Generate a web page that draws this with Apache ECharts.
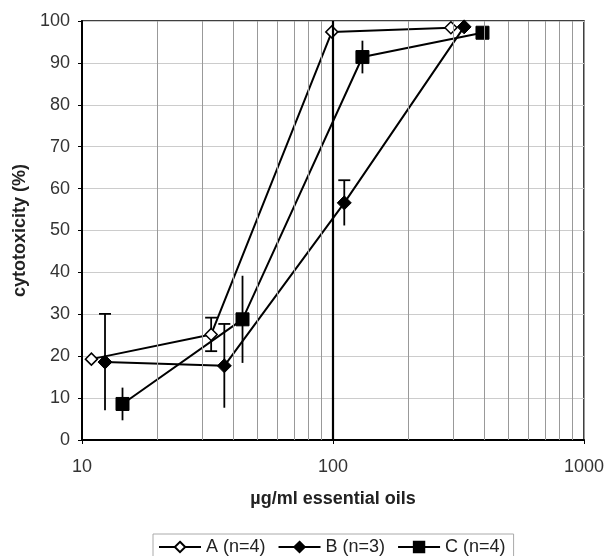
<!DOCTYPE html>
<html>
<head>
<meta charset="utf-8">
<script src="https://cdn.jsdelivr.net/npm/echarts@6/dist/echarts.min.js"></script>
<style>
  html, body { margin: 0; padding: 0; background: #fff; }
  #chart { width: 605px; height: 556px; }
</style>
</head>
<body>
<div id="chart"></div>
<script>
  // concentration (µg/ml) and cytotoxicity (%) per sample
  const xA = [10.9, 32.7, 98.9, 295];
  const yA = [19.3, 25.2, 97.4, 98.4];
  const errA = [0, 4, 0, 0];

  const xB = [12.35, 36.9, 110.9, 333];
  const yB = [18.6, 17.7, 56.6, 98.6];
  const errB = [11.5, 10, 5.4, 0];

  const xC = [14.5, 43.6, 131, 394];
  const yC = [8.6, 28.8, 91.4, 97.2];
  const errC = [3.9, 10.4, 3.9, 0];

  const yTicks = [0, 10, 20, 30, 40, 50, 60, 70, 80, 90, 100];
  const minorX = [20, 30, 40, 50, 60, 70, 80, 90, 200, 300, 400, 500, 600, 700, 800, 900];

  const pts = (xs, ys) => xs.map((x, i) => [x, ys[i]]);

  // error bar rows: x, low, high, cap (0 none, 1 top, 2 both)
  const bars = [];
  function addBars(xs, ys, errs, cap) {
    xs.forEach((x, i) => {
      if (errs[i] > 0) bars.push([x, ys[i] - errs[i], ys[i] + errs[i], cap]);
    });
  }
  addBars(xA, yA, errA, 2);
  addBars(xB, yB, errB, 1);
  addBars(xC, yC, errC, 0);

  const font = 'Liberation Sans, Arial, sans-serif';
  const chart = echarts.init(document.getElementById('chart'));

  const option = {
    animation: false,
    textStyle: { fontFamily: font },
    grid: {
      left: 82, right: 21, top: 21, bottom: 116,
      outerBoundsMode: 'none', containLabel: false,
      show: true, borderColor: '#000', borderWidth: 1.5
    },
    xAxis: {
      type: 'log', logBase: 10, min: 10, max: 1000,
      name: 'µg/ml essential oils',
      nameLocation: 'middle', nameGap: 50,
      nameTextStyle: { fontSize: 18, fontWeight: 'bold', color: '#222', fontFamily: font },
      axisLine: { lineStyle: { color: '#000', width: 2 } },
      axisTick: { show: true, length: 4, lineStyle: { color: '#000' } },
      axisLabel: {
        fontSize: 18, color: '#333', margin: 18, fontFamily: font,
        formatter: v => String(Math.round(v))
      },
      splitLine: { show: true, lineStyle: { color: '#999', width: 1 } }
    },
    yAxis: {
      type: 'value', min: 0, max: 100, interval: 10,
      name: 'cytotoxicity (%)',
      nameLocation: 'middle', nameGap: 50, nameRotate: 90,
      nameTextStyle: { fontSize: 18, fontWeight: 'bold', color: '#222', fontFamily: font },
      axisLine: { show: true, lineStyle: { color: '#000', width: 2 } },
      axisTick: { show: true, length: 4, inside: false, lineStyle: { color: '#000' } },
      axisLabel: {
        fontSize: 18, color: '#333', margin: 12, fontFamily: font,
        formatter: v => (yTicks.includes(v) ? String(v) : '')
      },
      splitLine: { show: true, lineStyle: { color: '#ccc', width: 1 } }
    },
    legend: {
      data: ['A (n=4)', 'B (n=3)', 'C (n=4)'],
      left: 153, top: 534,
      itemWidth: 42, itemHeight: 13, itemGap: 12,
      padding: [4, 8, 6, 5],
      borderColor: '#aaa', borderWidth: 1,
      textStyle: { fontSize: 18, color: '#222', fontFamily: font }
    },
    series: [
      {
        name: 'grid', type: 'line', data: [], silent: true,
        markLine: {
          silent: true, symbol: 'none', label: { show: false },
          lineStyle: { color: '#999', width: 1, type: 'solid' },
          data: minorX.map(v => ({ xAxis: v })).concat([
            { xAxis: 100, lineStyle: { color: '#000', width: 2.2, type: 'solid' } }
          ])
        }
      },
      {
        name: 'err', type: 'custom', data: bars, silent: true, z: 3,
        renderItem: function (params, api) {
          const x = api.value(0), lo = api.value(1), hi = api.value(2), cap = api.value(3);
          const p1 = api.coord([x, lo]), p2 = api.coord([x, hi]);
          const st = { stroke: '#000', lineWidth: 1.8 };
          const ch = [{ type: 'line', shape: { x1: p1[0], y1: p1[1], x2: p2[0], y2: p2[1] }, style: st }];
          if (cap >= 1) ch.push({ type: 'line', shape: { x1: p2[0] - 6, y1: p2[1], x2: p2[0] + 6, y2: p2[1] }, style: st });
          if (cap >= 2) ch.push({ type: 'line', shape: { x1: p1[0] - 6, y1: p1[1], x2: p1[0] + 6, y2: p1[1] }, style: st });
          return { type: 'group', children: ch };
        }
      },
      {
        name: 'A (n=4)', type: 'line', data: pts(xA, yA), z: 4,
        symbol: 'diamond', symbolSize: 12,
        lineStyle: { color: '#000', width: 2 },
        itemStyle: { color: '#fff', borderColor: '#000', borderWidth: 1.5 }
      },
      {
        name: 'B (n=3)', type: 'line', data: pts(xB, yB), z: 4,
        symbol: 'diamond', symbolSize: 14,
        lineStyle: { color: '#000', width: 2 },
        itemStyle: { color: '#000', borderColor: '#000', borderWidth: 1 }
      },
      {
        name: 'C (n=4)', type: 'line', data: pts(xC, yC), z: 4,
        symbol: 'rect', symbolSize: 13,
        lineStyle: { color: '#000', width: 2 },
        itemStyle: { color: '#000', borderColor: '#000', borderWidth: 1 }
      }
    ]
  };

  chart.setOption(option);
</script>
</body>
</html>
